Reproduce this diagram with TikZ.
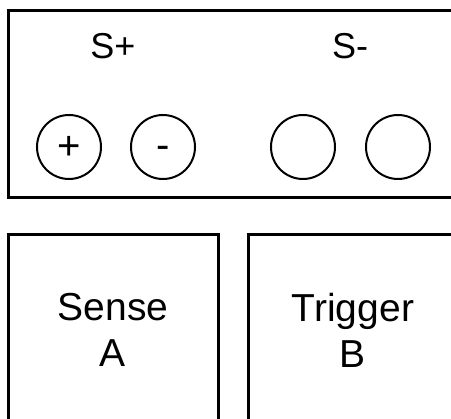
\documentclass[tikz,border=0pt]{standalone}
\usepackage{fontspec}
\setmainfont{Liberation Sans}
\usetikzlibrary{positioning}

\begin{document}
\begin{tikzpicture}[x=1pt, y=-1pt,
      panel/.style={draw, line width=3pt, inner sep=0pt},
      unit/.style={panel, minimum width=210pt, minimum height=190pt, align=center, font=\fontsize{39}{46}\selectfont},
      jack/.style={draw, circle, line width=2pt, minimum size=64pt, inner sep=0pt, font=\fontsize{40}{40}\selectfont},
      lab/.style={anchor=base, font=\fontsize{36}{36}\selectfont}]
      \useasboundingbox (0,0) rectangle (451,419);
      \clip (0,0) rectangle (451,419);
      \node[panel, minimum width=452pt, minimum height=187pt] (front) at (234,104.5) {};
      \node[lab] (splus) at (113,59) {S+};
      \node[lab] (sminus) at (350,59) {S-};
      \node[jack] (j1) at (69,147) {\smash{\raisebox{-13pt}{+}}};
      \node[jack] (j2) at (163,147) {\smash{\raisebox{-12pt}{-}}};
      \node[jack] (j3) at (303,147) {};
      \node[jack] (j4) at (398,147) {};
      \node[unit] (sense) at (113,330) {Sense\\A};
      \node[unit] (trigger) at (353,330) {Trigger\\B};
    \end{tikzpicture}
\end{document}
